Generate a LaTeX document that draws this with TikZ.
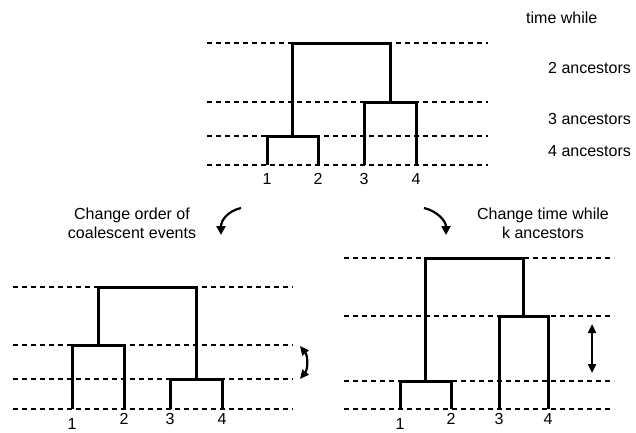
\documentclass[tikz,border=0pt]{standalone}
\usepackage{fontspec}
\setmainfont{Liberation Sans}
\usetikzlibrary{arrows.meta}

\begin{document}
\begin{tikzpicture}[
    x=1pt, y=-1pt,
    font=\fontsize{16}{19}\selectfont,
    guide/.style={dash pattern=on 5pt off 4pt, line width=1.8pt},
    br/.style={line width=3pt, line join=miter},
    lbl/.style={inner sep=0pt},
    ar/.style={-{Triangle[length=9pt,width=9pt]}, line width=2.2pt},
    dar/.style={{Triangle[length=9pt,width=8pt]}-{Triangle[length=9pt,width=8pt]},
                line width=2.2pt},
  ]
  \useasboundingbox (0,0) rectangle (636,432);

  % time levels
  \foreach \y in {43,102,136,165} \draw[guide] (207,\y) -- (488,\y);
  \foreach \y in {287,345,379,409} \draw[guide] (13,\y) -- (293,\y);
  \foreach \y in {258,316,381,409} \draw[guide] (344,\y) -- (614,\y);

  % top tree
  \coordinate (a1) at (267,165);
  \coordinate (a2) at (318,165);
  \coordinate (a3) at (364,165);
  \coordinate (a4) at (416,165);
  \coordinate (a12) at (292.5,136);
  \coordinate (a34) at (390,102);
  \coordinate (aroot) at (341,43);
  \draw[br] (a1) |- (a12) -| (a2);
  \draw[br] (a3) |- (a34) -| (a4);
  \draw[br] (a12) |- (aroot) -| (a34);

  % changed order
  \coordinate (b1) at (72,409);
  \coordinate (b2) at (124,409);
  \coordinate (b3) at (170,409);
  \coordinate (b4) at (222,409);
  \coordinate (b12) at (98,345);
  \coordinate (b34) at (196,379);
  \coordinate (broot) at (147,287);
  \draw[br] (b1) |- (b12) -| (b2);
  \draw[br] (b3) |- (b34) -| (b4);
  \draw[br] (b12) |- (broot) -| (b34);

  % changed times
  \coordinate (c1) at (400,409);
  \coordinate (c2) at (451,409);
  \coordinate (c3) at (499,409);
  \coordinate (c4) at (548,409);
  \coordinate (c12) at (425.5,381);
  \coordinate (c34) at (523.5,316);
  \coordinate (croot) at (474.5,258);
  \draw[br] (c1) |- (c12) -| (c2);
  \draw[br] (c3) |- (c34) -| (c4);
  \draw[br] (c12) |- (croot) -| (c34);

  % tip labels
  \node[lbl] (la1) at (267,179) {1};
  \node[lbl] (la2) at (318,179) {2};
  \node[lbl] (la3) at (364,179) {3};
  \node[lbl] (la4) at (416,179) {4};
  \node[lbl] (lb1) at (72,424) {1};
  \node[lbl] (lb2) at (124,419) {2};
  \node[lbl] (lb3) at (170,419) {3};
  \node[lbl] (lb4) at (222,419) {4};
  \node[lbl] (lc1) at (400,424) {1};
  \node[lbl] (lc2) at (451,419) {2};
  \node[lbl] (lc3) at (499,419) {3};
  \node[lbl] (lc4) at (548,419) {4};

  \node[lbl, anchor=west] (tw) at (526,18) {time while};
  \node[lbl, anchor=west] (k2) at (548,68) {2 ancestors};
  \node[lbl, anchor=west] (k3) at (548,119) {3 ancestors};
  \node[lbl, anchor=west] (k4) at (548,151) {4 ancestors};

  \node[lbl, align=center] (ord) at (132,223) {Change order of\\coalescent events};
  \node[lbl, align=center] (tim) at (543,223) {Change time while\\k ancestors};

  % arrows
  \coordinate (oa) at (241,208);
  \coordinate (ob) at (221,235);
  \draw[ar] (oa) .. controls (228,211) and (221,220) .. (ob);
  \coordinate (ta) at (424,208);
  \coordinate (tb) at (446,235);
  \draw[ar] (ta) .. controls (437,211) and (446,221) .. (tb);
  \coordinate (sa) at (300,346);
  \coordinate (sb) at (300,379);
  \draw[dar] (sa) .. controls (308,356) and (308,369) .. (sb);
  \coordinate (da) at (592,324);
  \coordinate (db) at (592,373);
  \draw[dar] (da) -- (db);
\end{tikzpicture}
\end{document}
